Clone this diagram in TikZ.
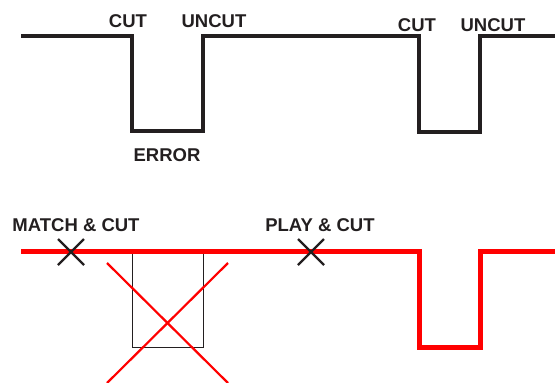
\documentclass[tikz,border=0pt]{standalone}
\usepackage{fontspec}
\setmainfont{Liberation Sans}
\definecolor{inkgray}{HTML}{231F20}
\definecolor{cutred}{HTML}{FF0000}
\begin{document}
\begin{tikzpicture}[x=1pt, y=-1pt, every node/.style={font=\bfseries\fontsize{18.5}{20}\selectfont, text=inkgray, inner sep=0pt}]

\useasboundingbox (0,0) rectangle (555,383);

% top: original track
\begin{scope}[line width=4pt, draw=inkgray]
\draw (21,35.5) -- (132,35.5) -- (132,131) -- (203,131) -- (203,35.5) -- (419,35.5) -- (419,132) -- (480,132) -- (480,35.5) -- (555,35.5);
\end{scope}

\node (cut1) at (128,21.5) {CUT};
\node (uncut1) at (214,21.5) {UNCUT};
\node (err) at (167,155) {ERROR};
\node (cut2) at (417,25) {CUT};
\node (uncut2) at (493,25) {UNCUT};

% bottom: edited track
\draw [line width=1pt, inkgray] (132,251.5) -- (132,347) -- (203,347) -- (203,251.5);

\draw [line width=5pt, cutred] (21,251.5) -- (419,251.5) -- (419,347.5) -- (480,347.5) -- (480,251.5) -- (555,251.5);

\begin{scope}[line width=2.2pt, cutred]
\draw (107,263) -- (228,383);
\draw (228,263) -- (107,383);
\end{scope}

\begin{scope}[line width=2.2pt, inkgray]
\draw (71,252) + (-13,-13) -- +(13,13);
\draw (71,252) + (-13,13) -- +(13,-13);
\draw (311,252) + (-13,-13) -- +(13,13);
\draw (311,252) + (-13,13) -- +(13,-13);
\end{scope}

\node (match) at (76,225) {MATCH \& CUT};
\node (play) at (320,225) {PLAY \& CUT};

\end{tikzpicture}
\end{document}
